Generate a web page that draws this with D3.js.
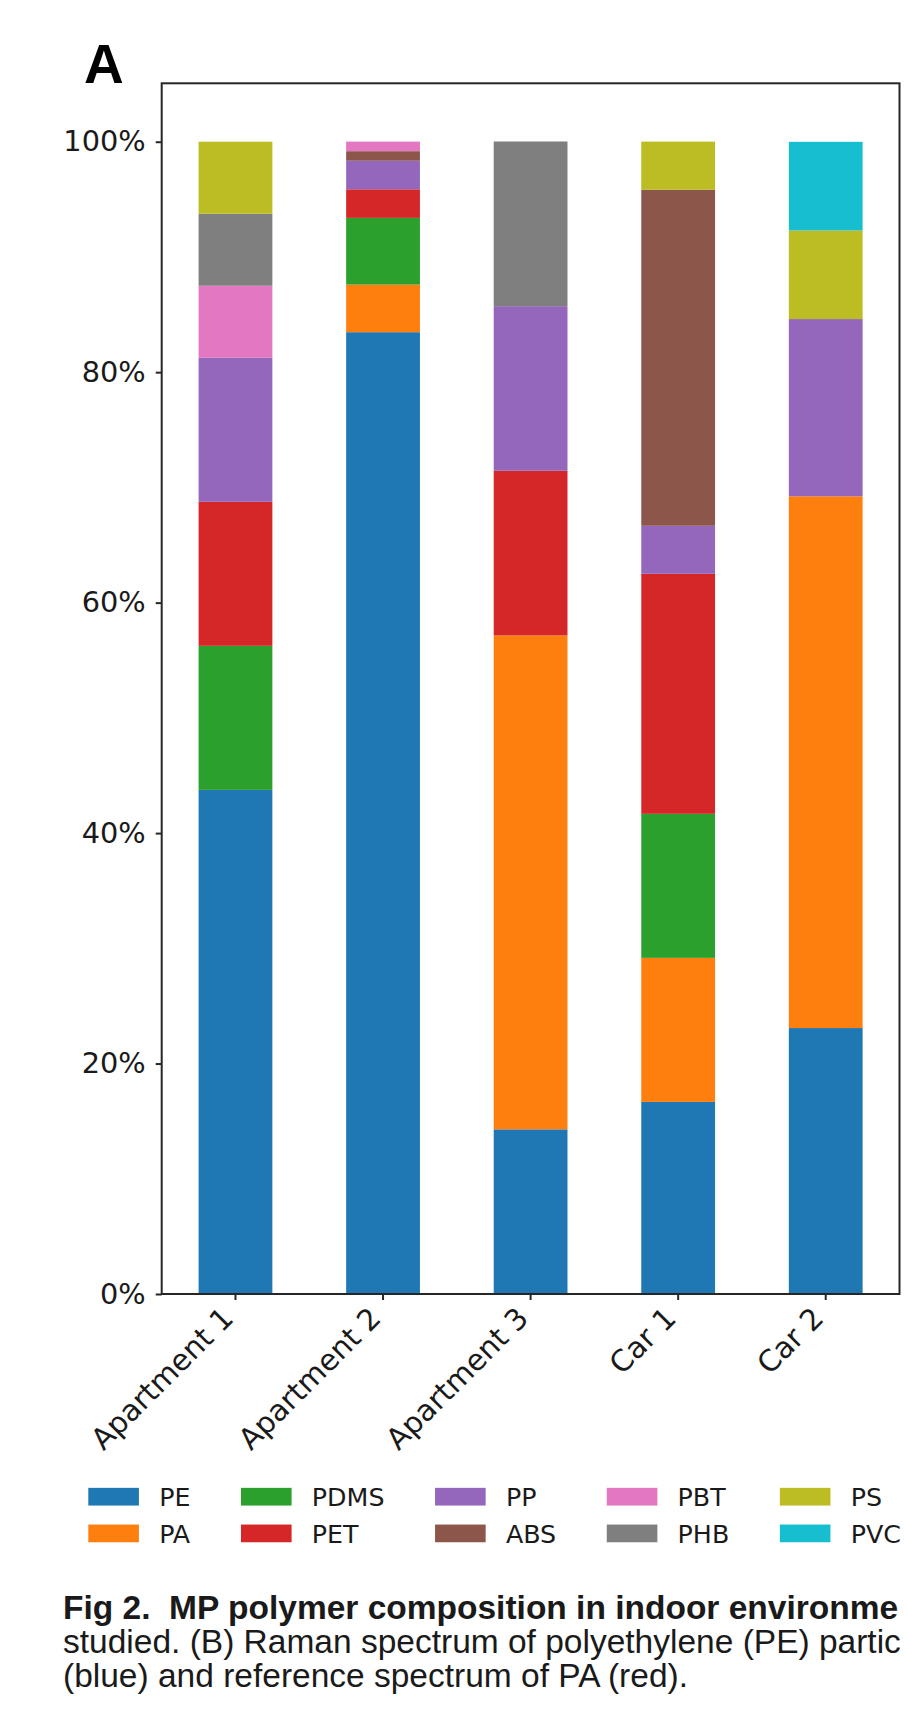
<!DOCTYPE html>
<html>
<head>
<meta charset="utf-8">
<script src="https://cdn.jsdelivr.net/npm/d3@7"></script>
<style>
  html, body { margin: 0; padding: 0; background: #fff; }
  svg { display: block; }
</style>
</head>
<body>
<svg id="chart" width="908" height="1711"></svg>
<script>
// ---- data (percent of particles per environment) ----
const categories = ["Apartment 1", "Apartment 2", "Apartment 3", "Car 1", "Car 2"];
const polymers = ["PE", "PA", "PDMS", "PET", "PP", "ABS", "PBT", "PHB", "PS", "PVC"];
const PE   = [43.75, 83.47, 14.29, 16.67, 23.08];
const PA   = [0.00,  4.13, 42.86, 12.50, 46.15];
const PDMS = [12.50, 5.79,  0.00, 12.50,  0.00];
const PET  = [12.50, 2.48, 14.29, 20.83,  0.00];
const PP   = [12.50, 2.48, 14.29,  4.17, 15.38];
const ABS  = [0.00,  0.83,  0.00, 29.17,  0.00];
const PBT  = [6.25,  0.83,  0.00,  0.00,  0.00];
const PHB  = [6.25,  0.00, 14.29,  0.00,  0.00];
const PS   = [6.25,  0.00,  0.00,  4.17,  7.69];
const PVC  = [0.00,  0.00,  0.00,  0.00,  7.69];
const yTicks = [0, 20, 40, 60, 80, 100];
const colors = ["#1f77b4", "#ff7f0e", "#2ca02c", "#d62728", "#9467bd",
                "#8c564b", "#e377c2", "#7f7f7f", "#bcbd22", "#17becf"];
// caption as visible in the (cropped) figure
const captionLines = [
  {text: "Fig 2.  MP polymer composition in indoor environme", bold: true},
  {text: "studied. (B) Raman spectrum of polyethylene (PE) partic", bold: false},
  {text: "(blue) and reference spectrum of PA (red).", bold: false}
];

const seriesArrays = [PE, PA, PDMS, PET, PP, ABS, PBT, PHB, PS, PVC];
const table = categories.map((c, i) => {
  const row = {category: c};
  polymers.forEach((p, j) => row[p] = seriesArrays[j][i]);
  return row;
});

// ---- layout ----
const L = 161.7, R = 899.5, T = 83.3, B = 1294;
const svg = d3.select("#chart");
const tickFont = "'DejaVu Sans', sans-serif";

const x = d3.scaleBand().domain(categories).range([L, R]).paddingInner(0.5).paddingOuter(0.25);
const y = d3.scaleLinear().domain([0, 105.07]).range([B, T]);
const color = d3.scaleOrdinal().domain(polymers).range(colors);

const stacked = d3.stack().keys(polymers)(table);

// bars
svg.append("g").selectAll("g").data(stacked).join("g")
  .attr("fill", d => color(d.key))
  .selectAll("rect").data(d => d).join("rect")
  .attr("x", d => x(d.data.category))
  .attr("width", x.bandwidth())
  .attr("y", d => y(d[1]))
  .attr("height", d => Math.max(0, y(d[0]) - y(d[1])));

// frame
svg.append("rect").attr("x", L).attr("y", T).attr("width", R - L).attr("height", B - T)
  .attr("fill", "none").attr("stroke", "#262626").attr("stroke-width", 2);

// y axis
const yAxis = svg.append("g").attr("transform", `translate(${L},0)`)
  .call(d3.axisLeft(y).tickValues(yTicks).tickFormat(d => d + "%").tickSize(6).tickPadding(10));
yAxis.select(".domain").remove();
yAxis.selectAll("line").attr("stroke", "#262626").attr("stroke-width", 2);
yAxis.selectAll("text").attr("font-family", tickFont).attr("font-size", 28.8).attr("fill", "#1a1a1a");

// x axis
const xAxis = svg.append("g").attr("transform", `translate(0,${B})`)
  .call(d3.axisBottom(x).tickSize(6).tickPadding(0));
xAxis.select(".domain").remove();
xAxis.selectAll("line").attr("stroke", "#262626").attr("stroke-width", 2);
xAxis.selectAll("text")
  .attr("font-family", tickFont).attr("font-size", 29.5).attr("fill", "#1a1a1a")
  .attr("text-anchor", "end").attr("x", 0).attr("y", 0).attr("dy", 0)
  .attr("transform", "translate(-0.5,26) rotate(-45)");

// panel letter
svg.append("text").attr("x", 84).attr("y", 82.5)
  .attr("font-family", "'Liberation Sans', Arial, sans-serif").attr("font-weight", "bold")
  .attr("font-size", 55).attr("fill", "#000").text("A");

// legend
const lf = 25.3;
const leg = svg.append("g").attr("font-family", tickFont).attr("font-size", lf);
let colX = 88.3;
const nCols = Math.ceil(polymers.length / 2);
for (let c = 0; c < nCols; c++) {
  let maxW = 0;
  for (let r = 0; r < 2; r++) {
    const i = c * 2 + r;
    if (i >= polymers.length) continue;
    const cy = 1496.7 + r * 36.7;
    leg.append("rect").attr("x", colX).attr("y", cy - 0.35 * lf)
      .attr("width", 2 * lf).attr("height", 0.7 * lf).attr("fill", color(polymers[i]));
    const t = leg.append("text").attr("x", colX + 2 * lf + 0.8 * lf).attr("y", cy)
      .attr("dy", "0.36em").attr("fill", "#1a1a1a").text(polymers[i]);
    maxW = Math.max(maxW, t.node().getComputedTextLength());
  }
  colX += 2 * lf + 0.8 * lf + maxW + 2 * lf;
}

// caption
const cap = svg.append("g").attr("font-family", "'Liberation Sans', Arial, sans-serif")
  .attr("font-size", 33.5).attr("fill", "#1a1a1a");
captionLines.forEach((ln, i) => {
  cap.append("text").attr("x", 63).attr("y", 1619.3 + i * 34)
    .attr("font-weight", ln.bold ? "bold" : "normal")
    .style("white-space", "pre").text(ln.text);
});
</script>
</body>
</html>
